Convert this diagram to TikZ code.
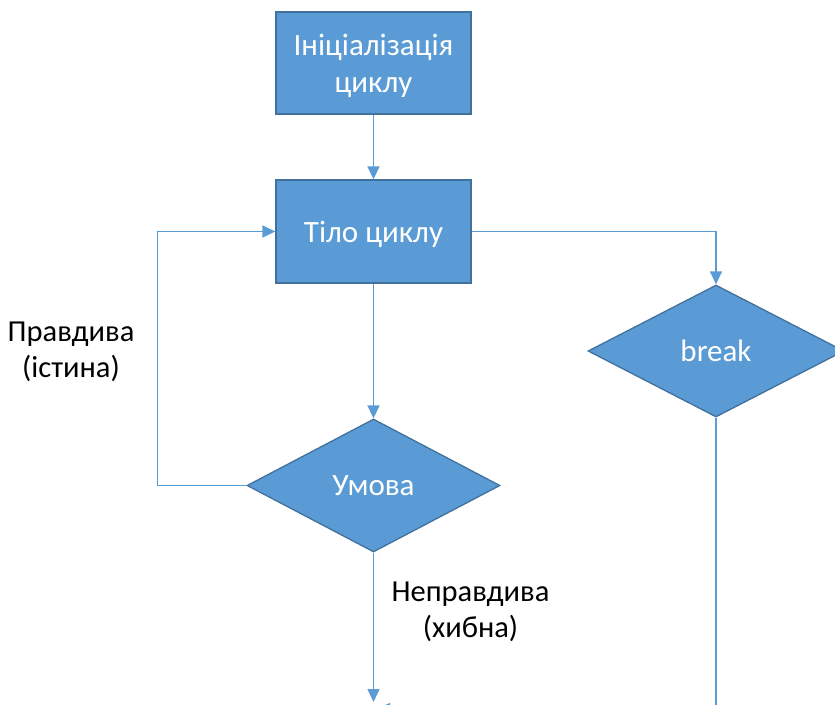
\documentclass[tikz,border=0pt]{standalone}
\usepackage{fontspec}
\setmainfont{Carlito}
\usetikzlibrary{shapes.geometric,arrows.meta}
\definecolor{fillblue}{HTML}{5B9BD5}
\definecolor{edgeblue}{HTML}{41719C}
\begin{document}
\begin{tikzpicture}[x=1pt,y=-1pt,
  procbox/.style={draw=edgeblue,fill=fillblue,line width=1.3pt,minimum width=195pt,minimum height=102pt,inner sep=0pt,text=white,font=\fontsize{31}{37}\selectfont,align=center,text height=21pt,text depth=0pt},
  decbox/.style={diamond,draw=edgeblue,fill=fillblue,line width=1.3pt,minimum width=253pt,minimum height=133pt,inner sep=0pt,text=white,font=\fontsize{31}{37}\selectfont,text height=20pt,text depth=0pt},
  conn/.style={draw=fillblue,line width=1.5pt},
  arr/.style={conn,-{Triangle[length=13pt,width=12pt]}},
  lbl/.style={font=\fontsize{30.5}{35.5}\selectfont,align=center,text=black}]
\useasboundingbox (0,0) rectangle (835,704);
\clip (0,0) rectangle (835,704);
\node[procbox,text height=58pt] (init) at (373.5,63) {Ініціалізація\\циклу};
\node[procbox,minimum height=103pt] (body) at (373.5,231.5) {Тіло циклу};
\node[decbox] (cond) at (373.5,485.5) {Умова};
\node[decbox,minimum width=256pt,minimum height=132pt] (brk) at (716,351) {break};
\coordinate (condend) at (373.5,702);
\coordinate (bot) at (716,709);
\coordinate (tip) at (377,709);
\draw[arr] (init.south) -- (body.north);
\draw[arr] (body.south) -- (cond.north);
\draw[arr] (cond.west) -- ++(-89,0) |- (body.west);
\draw[arr] (body.east) -| (brk.north);
\draw[arr] (cond.south) -- (condend);
\draw[arr] (brk.south) -- (bot) -- (tip);
\node[lbl] (truelbl) at (71,352) {Правдива\\(істина)};
\node[lbl] (falselbl) at (470.5,612) {Неправдива\\(хибна)};
\end{tikzpicture}
\end{document}
